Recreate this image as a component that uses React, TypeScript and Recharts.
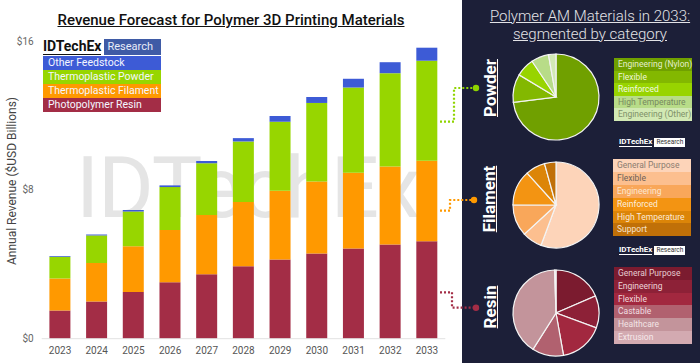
import React from "react";
import { Bar, BarChart, Cell, Pie, PieChart, XAxis, YAxis } from "recharts";

const years = ["2023", "2024", "2025", "2026", "2027", "2028", "2029", "2030", "2031", "2032", "2033"];
const resin = [1.51, 2.0, 2.51, 3.03, 3.46, 3.89, 4.25, 4.58, 4.85, 5.06, 5.24];
const filament = [1.72, 2.07, 2.46, 2.81, 3.19, 3.46, 3.7, 3.87, 4.07, 4.2, 4.33];
const powder = [1.17, 1.48, 1.86, 2.31, 2.78, 3.25, 3.71, 4.22, 4.58, 5.01, 5.37];
const other = [0.05, 0.05, 0.09, 0.09, 0.12, 0.18, 0.31, 0.32, 0.47, 0.59, 0.7];
const yTicks = [0, 8, 16];

const seriesNames = ["Other Feedstock", "Thermoplastic Powder", "Thermoplastic Filament", "Photopolymer Resin"];
const seriesColors = ["#3d5bd6", "#97d600", "#ff9900", "#a32d46"];

const powderNames = ["Engineering (Nylon)", "Flexible", "Reinforced", "High Temperature", "Engineering (Other)"];
const powderShare = [73, 10.6, 7, 6.6, 2.8];
const powderColors = ["#70a000", "#83b800", "#98d400", "#b8dc88", "#d2e9b4"];
const powderText = ["#e4eecb", "#eef6d8", "#f2fae0", "#76885f", "#7f9169"];

const filamentNames = ["General Purpose", "Flexible", "Engineering", "Reinforced", "High Temperature", "Support"];
const filamentShare = [55.6, 7.5, 11.9, 13.2, 7.4, 4.3];
const filamentColors = ["#fdd4b9", "#fcbf8f", "#f9a75a", "#f39412", "#dc8508", "#c07008"];
const filamentText = ["#8c7c70", "#6e6158", "#fbe6d0", "#fdeedd", "#fbe9d6", "#f5e2cc"];

const resinNames = ["General Purpose", "Engineering", "Flexible", "Castable", "Healthcare", "Extrusion"];
const resinShare = [18.5, 12.1, 16.6, 11.8, 40.5, 0.5];
const resinColors = ["#7b1b2f", "#8d2137", "#a2283f", "#b1616f", "#c3949b", "#d3aab1"];
const resinText = ["#e6cbd1", "#ecd3d8", "#f0d9dd", "#f2dfe2", "#f3e4e6", "#f5e8ea"];

const barData = years.map((y, i) => ({
  year: y,
  resin: resin[i],
  filament: filament[i],
  powder: powder[i],
  other: other[i],
}));

const NAVY = "#1c1f38";

function LeftLegend() {
  return (
    <div style={{ position: "absolute", left: 43, top: 38, width: 118 }}>
      <div style={{ display: "flex", alignItems: "center", height: 17, marginBottom: 1 }}>
        <span style={{ fontWeight: 700, fontSize: 14, color: "#111", borderBottom: "1.5px solid #111", lineHeight: "15px" }}>
          IDTechEx
        </span>
        <span
          style={{
            marginLeft: 3,
            background: "#3f5ba6",
            color: "#e8ecf8",
            fontSize: 11,
            height: 16,
            lineHeight: "16px",
            padding: "0 3px",
            flex: 1,
          }}
        >
          Research
        </span>
      </div>
      {seriesNames.map((n, i) => (
        <div
          key={n}
          style={{
            background: seriesColors[i],
            color: "#f4f6ff",
            fontSize: 10.5,
            height: 14,
            lineHeight: "14px",
            paddingLeft: 5,
            whiteSpace: "nowrap",
          }}
        >
          {n}
        </div>
      ))}
    </div>
  );
}

function PieLegend({ names, colors, text, row }: { names: string[]; colors: string[]; text: string[]; row: number }) {
  return (
    <div style={{ width: 78 }}>
      {names.map((n, i) => (
        <div
          key={n}
          style={{
            background: colors[i],
            color: text[i],
            fontSize: 8.5,
            height: row,
            lineHeight: row + "px",
            paddingLeft: 4,
            whiteSpace: "nowrap",
          }}
        >
          {n}
        </div>
      ))}
    </div>
  );
}

function SmallLogo({ left, top }: { left: number; top: number }) {
  return (
    <div style={{ position: "absolute", left, top, display: "flex", alignItems: "center" }}>
      <span style={{ color: "#fff", fontSize: 8, fontWeight: 700, borderBottom: "1px solid #fff", lineHeight: "9px" }}>IDTechEx</span>
      <span style={{ marginLeft: 2, background: "#fff", color: "#333", fontSize: 6.5, padding: "0 2px", lineHeight: "9px" }}>Research</span>
    </div>
  );
}

function SegmentPie({
  cx,
  cy,
  share,
  names,
  colors,
}: {
  cx: number;
  cy: number;
  share: number[];
  names: string[];
  colors: string[];
}) {
  const data = names.map((n, i) => ({ name: n, value: share[i] }));
  return (
    <div style={{ position: "absolute", left: cx - 50, top: cy - 50 }}>
      <PieChart width={100} height={100}>
        <Pie
          data={data}
          dataKey="value"
          cx={50}
          cy={50}
          outerRadius={43}
          startAngle={90}
          endAngle={-270}
          stroke="#f4f4f4"
          strokeWidth={1.2}
          isAnimationActive={false}
        >
          {data.map((d, i) => (
            <Cell key={d.name} fill={colors[i]} />
          ))}
        </Pie>
      </PieChart>
    </div>
  );
}

function SideLabel({ text, x, y }: { text: string; x: number; y: number }) {
  return (
    <div
      style={{
        position: "absolute",
        left: x,
        top: y,
        transform: "translate(-50%, -50%) rotate(-90deg)",
        color: "#fff",
        fontWeight: 700,
        fontSize: 17,
        textDecoration: "underline",
        whiteSpace: "nowrap",
      }}
    >
      {text}
    </div>
  );
}

export default function App() {
  return (
    <div
      style={{
        position: "absolute",
        left: 0,
        top: 0,
        width: 700,
        height: 363,
        background: "#fff",
        overflow: "hidden",
        fontFamily: "Roboto, sans-serif",
      }}
    >
      {/* watermark */}
      <div style={{ position: "absolute", left: 76, top: 138, fontSize: 85, color: "#e5e5e5", letterSpacing: -1 }}>IDTechEx</div>

      <div
        style={{
          position: "absolute",
          left: 0,
          width: 462,
          top: 11,
          textAlign: "center",
          fontSize: 15,
          fontWeight: 500,
          color: "#111",
          textDecoration: "underline",
        }}
      >
        Revenue Forecast for Polymer 3D Printing Materials
      </div>

      <div
        style={{
          position: "absolute",
          left: 12,
          top: 181,
          transform: "translate(-50%, -50%) rotate(-90deg)",
          fontSize: 12,
          color: "#444",
          whiteSpace: "nowrap",
        }}
      >
        Annual Revenue ($USD Billions)
      </div>

      <div style={{ position: "absolute", left: 0, top: 0 }}>
        <BarChart width={462} height={363} data={barData} margin={{ top: 41, right: 16.7, bottom: 0, left: 0 }} barCategoryGap="21%">
          <XAxis
            dataKey="year"
            height={24.3}
            tickLine={false}
            axisLine={{ stroke: "#e2e2e2" }}
            tick={{ fontSize: 10, fill: "#555" }}
            interval={0}
          />
          <YAxis
            width={41.7}
            domain={[0, 16]}
            ticks={yTicks}
            tickFormatter={(v) => `$${v}`}
            axisLine={false}
            tickLine={false}
            tick={{ fontSize: 10, fill: "#666" }}
          />
          <Bar dataKey="resin" stackId="a" fill={seriesColors[3]} isAnimationActive={false} />
          <Bar dataKey="filament" stackId="a" fill={seriesColors[2]} isAnimationActive={false} />
          <Bar dataKey="powder" stackId="a" fill={seriesColors[1]} isAnimationActive={false} />
          <Bar dataKey="other" stackId="a" fill={seriesColors[0]} isAnimationActive={false} />
        </BarChart>
      </div>

      <LeftLegend />

      {/* right panel */}
      <div style={{ position: "absolute", left: 462, top: 0, width: 238, height: 363, background: NAVY }} />
      <div
        style={{
          position: "absolute",
          left: 480,
          width: 220,
          top: 7,
          textAlign: "center",
          color: "#e2e2e6",
          fontSize: 15,
          fontWeight: 300,
          lineHeight: "18px",
          textDecoration: "underline",
        }}
      >
        Polymer AM Materials in 2033:
        <br />
        segmented by category
      </div>

      <SideLabel text="Powder" x={490} y={88} />
      <SideLabel text="Filament" x={489} y={199} />
      <SideLabel text="Resin" x={490} y={307} />

      <SegmentPie cx={550.5} cy={92} share={powderShare} names={powderNames} colors={powderColors} />
      <SegmentPie cx={550.5} cy={200} share={filamentShare} names={filamentNames} colors={filamentColors} />
      <SegmentPie cx={551} cy={307.5} share={resinShare} names={resinNames} colors={resinColors} />

      <div style={{ position: "absolute", left: 614, top: 58 }}>
        <PieLegend names={powderNames} colors={powderColors} text={powderText} row={12.6} />
      </div>
      <div style={{ position: "absolute", left: 613, top: 159 }}>
        <PieLegend names={filamentNames} colors={filamentColors} text={filamentText} row={12.9} />
      </div>
      <div style={{ position: "absolute", left: 614, top: 267 }}>
        <PieLegend names={resinNames} colors={resinColors} text={resinText} row={12.8} />
      </div>

      <SmallLogo left={619} top={137} />
      <SmallLogo left={619} top={245} />

      {/* connectors */}
      <svg width={700} height={363} style={{ position: "absolute", left: 0, top: 0, pointerEvents: "none" }}>
        <polyline points="440,121.7 454,121.7 454,88 476,88" fill="none" stroke="#8fd400" strokeWidth={2.2} strokeDasharray="2 2" />
        <circle cx={476} cy={88} r={3.2} fill="#8fd400" />
        <polyline points="440,210.7 450,210.7 450,200 474,200" fill="none" stroke="#ff9900" strokeWidth={2.2} strokeDasharray="2 2" />
        <circle cx={474} cy={200} r={3.2} fill="#ff9900" />
        <polyline points="440,292.3 452,292.3 452,307.7 476,307.7" fill="none" stroke="#a32d46" strokeWidth={2.2} strokeDasharray="2 2" />
        <circle cx={476} cy={307.7} r={3.2} fill="#a32d46" />
      </svg>
    </div>
  );
}
